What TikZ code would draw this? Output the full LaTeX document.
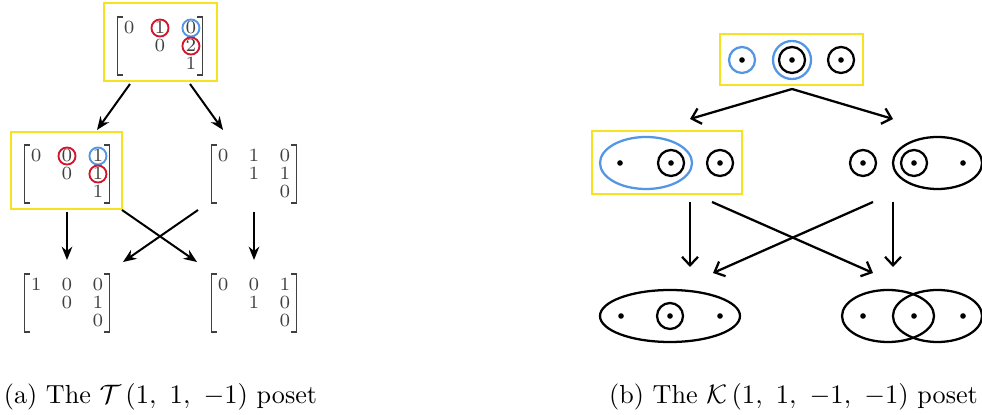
\documentclass[tikz,border=0pt]{standalone}
\usepackage{xcolor}
\usepackage{tikz}
\usepackage{amsmath, amssymb}
\usetikzlibrary{matrix,shapes.geometric,arrows.meta}
\definecolor{hlyellow}{RGB}{247,226,32}
\definecolor{ringred}{RGB}{210,22,45}
\definecolor{ringblue}{RGB}{82,150,228}

\begin{document}
\begin{tikzpicture}[x=0.375pt, y=-0.375pt,
  tri/.style={matrix of math nodes, color=black!75,
    nodes={font=\scriptsize, inner sep=0pt, outer sep=0pt, text height=4.5pt, text depth=0pt, minimum width=5pt},
    row sep=2.25pt, column sep=6.6pt, inner xsep=1.65pt, inner ysep=1.7pt},
  brk/.style={draw=black!75, line width=0.55pt},
  hl/.style={draw=hlyellow, line width=1.1pt},
  redring/.style={draw=ringred, circle, line width=0.7pt, minimum size=6.4pt, inner sep=0pt},
  bluering/.style={draw=ringblue, circle, line width=0.7pt, minimum size=6.4pt, inner sep=0pt},
  dot/.style={circle, fill=black, inner sep=0pt, minimum size=2.1pt},
  ring/.style={draw, circle, line width=0.85pt, inner sep=0pt, minimum size=9.75pt},
  outer/.style={draw=ringblue, circle, line width=0.85pt, inner sep=0pt, minimum size=14.25pt},
  blob/.style={draw, ellipse, line width=0.85pt, inner sep=0pt, minimum height=19.5pt},
  tarrow/.style={-{Stealth[length=5pt, width=4pt]}, line width=0.75pt},
  karrow/.style={-{Straight Barb[length=3.2pt, width=6pt]}, line width=0.85pt},
  caption/.style={font=\fontsize{9.8}{12}\selectfont}
]
\useasboundingbox (0,0) rectangle (982,415);

\matrix (t0) [tri] at (160,46) {0 & 1 & 0 \\ & 0 & 2 \\ & & 1 \\};
\matrix (t1) [tri] at (67,174) {0 & 0 & 1 \\ & 0 & 1 \\ & & 1 \\};
\matrix (t2) [tri] at (254,174) {0 & 1 & 0 \\ & 1 & 1 \\ & & 0 \\};
\matrix (t3) [tri] at (67,303) {1 & 0 & 0 \\ & 0 & 1 \\ & & 0 \\};
\matrix (t4) [tri] at (254,303) {0 & 0 & 1 \\ & 1 & 0 \\ & & 0 \\};
\foreach \m in {t0,t1,t2,t3,t4} {
  \draw[brk] ([xshift=2pt]\m.north west) -| (\m.south west) -- ++(2pt,0);
  \draw[brk] ([xshift=-2pt]\m.north east) -| (\m.south east) -- ++(-2pt,0);
}
\node[redring] (t0r1) at (t0-1-2) {};
\node[bluering] (t0b) at (t0-1-3) {};
\node[redring] (t0r2) at (t0-2-3) {};
\node[redring] (t1r1) at (t1-1-2) {};
\node[bluering] (t1b) at (t1-1-3) {};
\node[redring] (t1r2) at (t1-2-3) {};
\draw[hl] (104,3) rectangle (217,81);
\draw[hl] (11,132) rectangle (122,209);

\coordinate (ta) at (130,84);  \coordinate (tb) at (97,130);
\coordinate (tc) at (190,84);  \coordinate (td) at (223,130);
\coordinate (te) at (67,212);  \coordinate (tf) at (67,260);
\coordinate (tg) at (254,212); \coordinate (th) at (254,260);
\coordinate (ti) at (122,210); \coordinate (tj) at (197,262);
\coordinate (tk) at (198,210); \coordinate (tl) at (123,262);
\foreach \a/\b in {ta/tb, tc/td, te/tf, tg/th, ti/tj, tk/tl}
  \draw[tarrow] (\a) -- (\b);

\draw[hl] (720,34) rectangle (863,85);
\node[dot] (k0a) at (742,60) {};
\node[ring, draw=ringblue] (k0ar) at (742,60) {};
\node[dot] (k0b) at (792,60) {};
\node[ring] (k0br) at (792,60) {};
\node[outer] (k0bo) at (792,60) {};
\node[dot] (k0c) at (841,60) {};
\node[ring] (k0cr) at (841,60) {};

\draw[hl] (592,131) rectangle (742,194);
\node[blob, draw=ringblue, minimum width=34.5pt] (k1e) at (646,163) {};
\node[dot] (k1a) at (620,163) {};
\node[dot] (k1b) at (671,163) {};
\node[ring] (k1br) at (671,163) {};
\node[dot] (k1c) at (720,163) {};
\node[ring] (k1cr) at (720,163) {};

\node[dot] (k2a) at (863,163) {};
\node[ring] (k2ar) at (863,163) {};
\node[blob, minimum width=33.4pt] (k2e) at (937.5,163) {};
\node[dot] (k2b) at (914,163) {};
\node[ring] (k2br) at (914,163) {};
\node[dot] (k2c) at (963,163) {};

\node[blob, minimum width=52.5pt] (k3e) at (670,316) {};
\node[dot] (k3a) at (621,316) {};
\node[dot] (k3b) at (670,316) {};
\node[ring] (k3br) at (670,316) {};
\node[dot] (k3c) at (720,316) {};

\node[blob, minimum width=34.5pt] (k4e) at (888,316) {};
\node[blob, minimum width=33.4pt] (k4f) at (937.5,316) {};
\node[dot] (k4a) at (863,316) {};
\node[dot] (k4b) at (914,316) {};
\node[dot] (k4c) at (963,316) {};

\coordinate (ka) at (792,89);  \coordinate (kb) at (690,119);
\coordinate (kc) at (893,119);
\coordinate (kd) at (690,202); \coordinate (ke) at (690,267);
\coordinate (kf) at (893,202); \coordinate (kg) at (893,267);
\coordinate (kh) at (712,202); \coordinate (ki) at (873,273);
\coordinate (kj) at (873,202); \coordinate (kk) at (713,273);
\foreach \a/\b in {ka/kb, ka/kc, kd/ke, kf/kg, kh/ki, kj/kk}
  \draw[karrow] (\a) -- (\b);

\node[caption] (capa) at (160.5,397) {(a) The $\mathcal{T}\,(1,\ 1,\ -1)$ poset};
\node[caption] (capb) at (793.5,397) {(b) The $\mathcal{K}\,(1,\ 1,\ -1,\ -1)$ poset};
\end{tikzpicture}
\end{document}
